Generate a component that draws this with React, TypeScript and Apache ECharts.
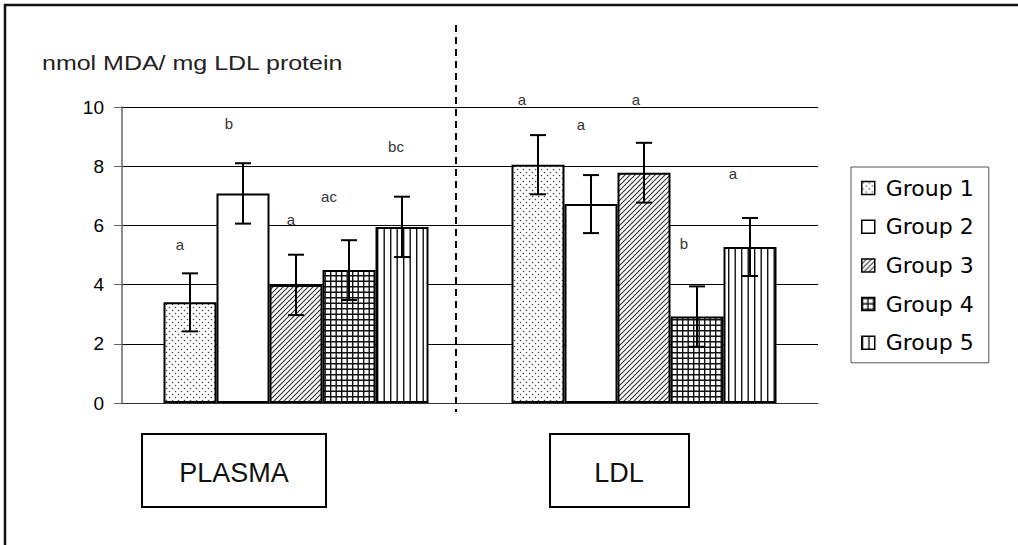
import React, { useEffect, useRef } from "react";
import * as echarts from "echarts";

// ---------- data ----------
const categories = ["PLASMA", "LDL"];
const groupNames = ["Group 1", "Group 2", "Group 3", "Group 4", "Group 5"];

const group1 = [3.4, 8.05];
const group2 = [7.08, 6.72];
const group3 = [3.99, 7.78];
const group4 = [4.49, 2.92];
const group5 = [5.95, 5.27];

const err1 = [0.98, 1.0];
const err2 = [1.02, 0.98];
const err3 = [1.02, 1.01];
const err4 = [1.01, 1.02];
const err5 = [1.02, 0.98];

const letters1 = ["a", "a"];
const letters2 = ["b", "a"];
const letters3 = ["a", "a"];
const letters4 = ["ac", "b"];
const letters5 = ["bc", "a"];

const yMin = 0;
const yMax = 10;
const yInterval = 2;

const axisTitle = "nmol MDA/ mg LDL protein";

// ---------- layout (pixels) ----------
const BAR_W = 53;
const CAP_W = 16;
// letter label offsets relative to each bar's top centre [dx, dy]
const LABEL_OFFSETS = [
  [[-10, -58], [-16, -65]],
  [[-14, -70], [-10, -80]],
  [[-5, -65], [-8, -73]],
  [[-20, -74], [-13, -73]],
  [[-6, -80], [-17, -74]],
];

function makeTile(w: number, h: number, draw: (ctx: CanvasRenderingContext2D) => void) {
  const c = document.createElement("canvas");
  c.width = w;
  c.height = h;
  const ctx = c.getContext("2d")!;
  ctx.fillStyle = "#fff";
  ctx.fillRect(0, 0, w, h);
  draw(ctx);
  return c;
}

function buildPatterns() {
  const dots = makeTile(6, 6, (ctx) => {
    ctx.fillStyle = "#444";
    ctx.beginPath();
    ctx.arc(1.5, 1.5, 0.8, 0, Math.PI * 2);
    ctx.arc(4.5, 4.5, 0.8, 0, Math.PI * 2);
    ctx.fill();
  });
  const diag = makeTile(5, 5, (ctx) => {
    ctx.strokeStyle = "#333";
    ctx.lineWidth = 1.1;
    ctx.beginPath();
    ctx.moveTo(0, 5); ctx.lineTo(5, 0);
    ctx.moveTo(-1, 1); ctx.lineTo(1, -1);
    ctx.moveTo(4, 6); ctx.lineTo(6, 4);
    ctx.stroke();
  });
  const grid = makeTile(11, 11, (ctx) => {
    ctx.strokeStyle = "#111";
    ctx.lineWidth = 1.4;
    ctx.beginPath();
    ctx.moveTo(0.7, 0); ctx.lineTo(0.7, 11);
    ctx.moveTo(6.2, 0); ctx.lineTo(6.2, 11);
    ctx.moveTo(0, 0.7); ctx.lineTo(11, 0.7);
    ctx.moveTo(0, 6.2); ctx.lineTo(11, 6.2);
    ctx.stroke();
  });
  const vert = makeTile(13, 4, (ctx) => {
    ctx.strokeStyle = "#111";
    ctx.lineWidth = 1.4;
    ctx.beginPath();
    ctx.moveTo(0.7, 0); ctx.lineTo(0.7, 4);
    ctx.moveTo(7.2, 0); ctx.lineTo(7.2, 4);
    ctx.stroke();
  });
  const pat = (img: HTMLCanvasElement) => ({
    image: img,
    repeat: "repeat",
    imageWidth: img.width,
    imageHeight: img.height,
  });
  return [pat(dots), "#ffffff", pat(diag), pat(grid), pat(vert)];
}

export default function App() {
  const ref = useRef<HTMLDivElement>(null);

  useEffect(() => {
    document.body.style.margin = "0";
    document.body.style.overflow = "hidden";
    if (!ref.current) return;
    const chart = echarts.init(ref.current, undefined, { renderer: "svg" });

    const groups = [group1, group2, group3, group4, group5];
    const errs = [err1, err2, err3, err4, err5];
    const letters = [letters1, letters2, letters3, letters4, letters5];
    const fills = buildPatterns();
    const n = groups.length;

    const barSeries = groups.map((vals, s) => ({
      type: "bar",
      name: groupNames[s],
      barWidth: BAR_W,
      barGap: "0%",
      itemStyle: { color: fills[s], borderColor: "#000", borderWidth: 2 },
      label: {
        show: true,
        position: "top",
        distance: 0,
        verticalAlign: "middle",
        align: "center",
        fontSize: 15,
        fontFamily: "Liberation Sans",
        color: "#333",
      },
      data: vals.map((v, c) => ({
        value: v,
        label: { formatter: letters[s][c], offset: LABEL_OFFSETS[s][c] },
      })),
      z: 2,
    }));

    const errData: number[][] = [];
    groups.forEach((vals, s) =>
      vals.forEach((v, c) => errData.push([c, s, v, errs[s][c]]))
    );

    const errorSeries = {
      type: "custom",
      silent: true,
      z: 10,
      encode: { x: 0, y: 2 },
      data: errData,
      renderItem: (_p: any, api: any) => {
        const c = api.value(0);
        const s = api.value(1);
        const v = api.value(2);
        const e = api.value(3);
        const base = api.coord([c, v]);
        const x = base[0] + (s - (n - 1) / 2) * BAR_W;
        const yt = api.coord([c, v + e])[1];
        const yb = api.coord([c, v - e])[1];
        const hw = CAP_W / 2;
        const st = { stroke: "#000", lineWidth: 2 };
        return {
          type: "group",
          children: [
            { type: "line", shape: { x1: x, y1: yt, x2: x, y2: yb }, style: st },
            { type: "line", shape: { x1: x - hw, y1: yt, x2: x + hw, y2: yt }, style: st },
            { type: "line", shape: { x1: x - hw, y1: yb, x2: x + hw, y2: yb }, style: st },
          ],
        };
      },
    };

    chart.setOption({
      animation: false,
      backgroundColor: "#fff",
      grid: { left: 122, top: 107, width: 696, bottom: 142 },
      xAxis: {
        type: "category",
        data: categories,
        axisLabel: { show: false },
        axisTick: { show: false },
        axisLine: { show: true, lineStyle: { color: "#333", width: 1 } },
      },
      yAxis: {
        type: "value",
        min: yMin,
        max: yMax,
        interval: yInterval,
        axisLine: { show: true, lineStyle: { color: "#666", width: 1.5 } },
        axisTick: { show: true, length: 8, lineStyle: { color: "#666", width: 1 } },
        splitLine: { show: true, lineStyle: { color: "#000", width: 1 } },
        axisLabel: {
          fontSize: 19,
          margin: 18,
          color: "#000",
          fontFamily: "Liberation Sans",
        },
      },
      legend: {
        data: groupNames,
        orient: "vertical",
        left: 851,
        top: 167,
        icon: "rect",
        itemWidth: 13,
        itemHeight: 13,
        itemGap: 14.7,
        padding: [9, 7, 8, 10],
        borderColor: "#555",
        borderWidth: 1,
        selectedMode: false,
        itemStyle: { borderColor: "#000", borderWidth: 1.5 },
        textStyle: {
          fontSize: 22,
          fontFamily: "DejaVu Sans",
          color: "#000",
          lineHeight: 24,
          width: 96,
          padding: [0, 0, 0, 6],
        },
      },
      graphic: [
        {
          type: "line",
          shape: { x1: 5, y1: 4, x2: 5, y2: 600 },
          style: { stroke: "#111", lineWidth: 2.5 },
          silent: true,
        },
        {
          type: "line",
          shape: { x1: 4, y1: 5, x2: 1040, y2: 5 },
          style: { stroke: "#111", lineWidth: 2.5 },
          silent: true,
        },
        {
          type: "line",
          shape: { x1: 456, y1: 25, x2: 456, y2: 412 },
          style: { stroke: "#000", lineWidth: 2, lineDash: [7, 5] },
          silent: true,
          z: 20,
        },
        {
          type: "text",
          x: 42,
          y: 63,
          scaleX: 1.25,
          style: {
            text: axisTitle,
            x: 0,
            y: 0,
            fontSize: 20,
            fontFamily: "Liberation Sans",
            fill: "#222",
            verticalAlign: "middle",
          },
        },
        {
          type: "rect",
          shape: { x: 142, y: 434, width: 184, height: 73 },
          style: { fill: "#fff", stroke: "#000", lineWidth: 2 },
        },
        {
          type: "text",
          style: {
            text: categories[0],
            x: 234,
            y: 473,
            fontSize: 27,
            fontFamily: "Liberation Sans",
            fill: "#111",
            align: "center",
            verticalAlign: "middle",
          },
        },
        {
          type: "rect",
          shape: { x: 550, y: 434, width: 139, height: 73 },
          style: { fill: "#fff", stroke: "#000", lineWidth: 2 },
        },
        {
          type: "text",
          style: {
            text: categories[1],
            x: 619,
            y: 473,
            fontSize: 27,
            fontFamily: "Liberation Sans",
            fill: "#111",
            align: "center",
            verticalAlign: "middle",
          },
        },
      ],
      series: [...barSeries, errorSeries],
    });

    return () => chart.dispose();
  }, []);

  return <div ref={ref} style={{ width: 1018, height: 545 }} />;
}
